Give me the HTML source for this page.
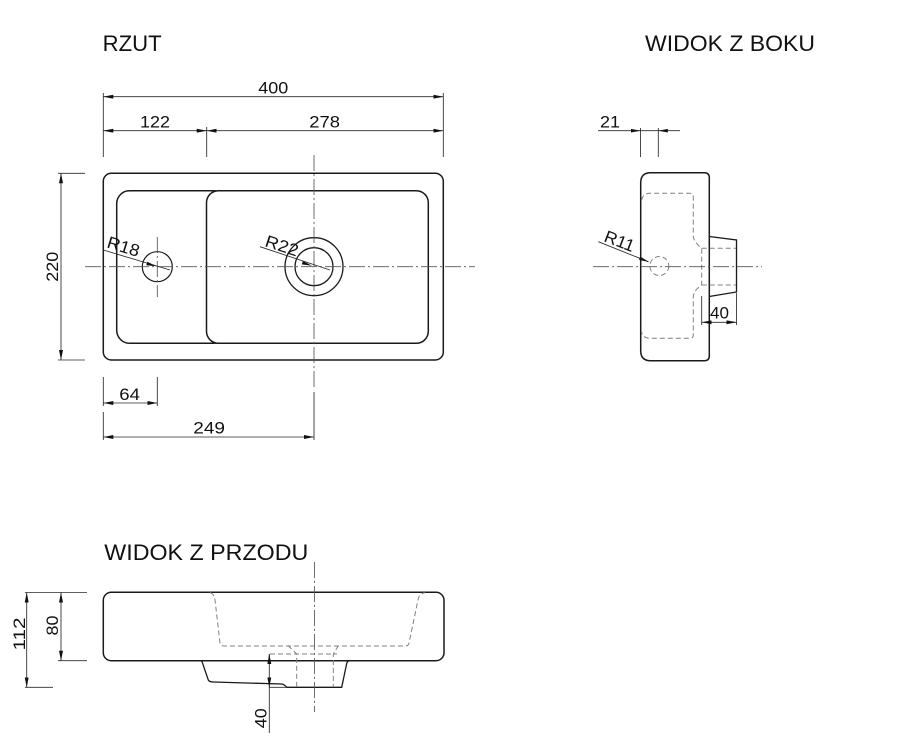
<!DOCTYPE html>
<html><head><meta charset="utf-8"><style>
html,body{margin:0;padding:0;background:#fff;}
svg{display:block;}
text{font-family:"Liberation Sans",Arial,sans-serif;fill:#111;}
.o{fill:none;stroke:#1a1a1a;stroke-width:1.5;}
.d{fill:none;stroke:#2a2a2a;stroke-width:0.85;}
.h{fill:none;stroke:#808080;stroke-width:1;stroke-dasharray:5 3;}
.c{fill:none;stroke:#555;stroke-width:0.85;stroke-dasharray:16 3 2 3;}
.t{font-size:17px;}
.T{font-size:22px;}
</style></head><body>
<svg width="903" height="747" viewBox="0 0 903 747" xmlns="http://www.w3.org/2000/svg">
<defs>
<marker id="a" viewBox="0 0 10 4" refX="10" refY="2" markerWidth="10" markerHeight="4" markerUnits="userSpaceOnUse" orient="auto-start-reverse">
<path d="M0,0 L10,2 L0,4 z" fill="#111"/>
</marker>
</defs>

<!-- Titles -->
<text class="T" x="102.7" y="51" textLength="59" lengthAdjust="spacingAndGlyphs">RZUT</text>
<text class="T" x="645" y="51" textLength="170" lengthAdjust="spacingAndGlyphs">WIDOK Z BOKU</text>
<text class="T" x="104.3" y="560" textLength="204" lengthAdjust="spacingAndGlyphs">WIDOK Z PRZODU</text>

<!-- ===== PLAN VIEW ===== -->
<rect class="o" x="103.3" y="173.3" width="340" height="186.7" rx="8"/>
<rect class="o" x="116.7" y="190.7" width="110" height="152.6" rx="13"/>
<rect class="o" x="206.5" y="190.7" width="221.8" height="152.6" rx="12" style="fill:#fff"/>
<circle class="o" cx="157.3" cy="266.7" r="15" style="stroke-width:1.2"/>
<circle class="o" cx="314" cy="266.7" r="29" style="stroke-width:1.3"/>
<circle class="o" cx="314" cy="266.7" r="19" style="stroke-width:1.3"/>
<!-- centerlines -->
<line class="c" x1="85" y1="266.7" x2="475" y2="266.7"/>
<line class="c" x1="314" y1="155" x2="314" y2="388"/>
<line class="d" x1="314" y1="392" x2="314" y2="440"/>
<line class="c" x1="157.3" y1="237" x2="157.3" y2="297"/>

<!-- dims plan -->
<line class="d" x1="103.3" y1="93" x2="103.3" y2="157"/>
<line class="d" x1="443.3" y1="93" x2="443.3" y2="157"/>
<line class="d" x1="206.7" y1="127" x2="206.7" y2="157"/>
<line class="d" x1="103.3" y1="96.7" x2="443.3" y2="96.7" marker-start="url(#a)" marker-end="url(#a)"/>
<line class="d" x1="103.3" y1="130.7" x2="206.7" y2="130.7" marker-start="url(#a)" marker-end="url(#a)"/>
<line class="d" x1="206.7" y1="130.7" x2="443.3" y2="130.7" marker-start="url(#a)" marker-end="url(#a)"/>
<text class="t" x="258.3" y="93.3" textLength="30" lengthAdjust="spacingAndGlyphs">400</text>
<text class="t" x="140" y="127.7" textLength="30" lengthAdjust="spacingAndGlyphs">122</text>
<text class="t" x="309.3" y="127.7" textLength="30.7" lengthAdjust="spacingAndGlyphs">278</text>

<line class="d" x1="58" y1="173.3" x2="85" y2="173.3"/>
<line class="d" x1="58" y1="360" x2="85" y2="360"/>
<line class="d" x1="61" y1="173.3" x2="61" y2="360" marker-start="url(#a)" marker-end="url(#a)"/>
<text class="t" transform="translate(57.8,266.7) rotate(-90)" x="0" y="0" text-anchor="middle" textLength="30" lengthAdjust="spacingAndGlyphs">220</text>

<line class="d" x1="103.3" y1="377" x2="103.3" y2="406"/>
<line class="d" x1="103.3" y1="412" x2="103.3" y2="440"/>
<line class="d" x1="157.3" y1="377" x2="157.3" y2="406"/>
<line class="d" x1="103.3" y1="403" x2="157.3" y2="403" marker-start="url(#a)" marker-end="url(#a)"/>
<text class="t" x="119.3" y="400" textLength="20.7" lengthAdjust="spacingAndGlyphs">64</text>
<line class="d" x1="103.3" y1="437" x2="314" y2="437" marker-start="url(#a)" marker-end="url(#a)"/>
<text class="t" x="193.3" y="433.3" textLength="31.7" lengthAdjust="spacingAndGlyphs">249</text>

<!-- radius leaders -->
<line class="d" x1="103.3" y1="250" x2="170" y2="270"/>
<polygon points="156.5,266.2 147.3,261.8 146.3,265.2" fill="#111"/>
<text class="t" transform="translate(106,247.3) rotate(17)" x="0" y="0" textLength="33" lengthAdjust="spacingAndGlyphs">R18</text>
<line class="d" x1="260" y1="246.7" x2="330" y2="270"/>
<polygon points="312,265.7 302.9,261 301.8,264.4" fill="#111"/>
<text class="t" transform="translate(264,246) rotate(18)" x="0" y="0" textLength="34" lengthAdjust="spacingAndGlyphs">R22</text>

<!-- ===== SIDE VIEW ===== -->
<path class="o" d="M650.7,172.7 H704.3 Q709.3,172.7 709.3,177.7 V355.7 Q709.3,360.7 704.3,360.7 H650.7 Q640.7,360.7 640.7,350.7 V182.7 Q640.7,172.7 650.7,172.7 Z"/>
<path class="o" d="M709.3,236.5 L736.5,240 V292 L709.3,296.5" style="stroke-width:1.3"/>
<path class="h" d="M641.5,200 Q643,193.3 650,193.3 H690 Q693.3,193.3 693.3,197 V236.7 Q694,242 701.7,248.3 V285 Q694,290 693.3,296.5 V335 Q693.3,338.3 690,338.3 H650 Q643,338.3 641.5,332"/>
<line class="h" x1="701.7" y1="248.3" x2="736" y2="248.3"/>
<line class="h" x1="701.7" y1="285" x2="736" y2="285"/>
<circle class="h" cx="659.3" cy="266" r="9.5"/>
<line class="c" x1="593" y1="266.7" x2="762" y2="266.7"/>

<line class="d" x1="598.3" y1="241.7" x2="648.5" y2="261.8"/>
<polygon points="649,262 640.3,256.6 639,259.9" fill="#111"/>
<text class="t" transform="translate(603,241) rotate(21)" x="0" y="0" textLength="31" lengthAdjust="spacingAndGlyphs">R11</text>

<line class="d" x1="640.5" y1="128" x2="640.5" y2="157"/>
<line class="d" x1="658.3" y1="128" x2="658.3" y2="157"/>
<line class="d" x1="598" y1="130.7" x2="680" y2="130.7"/>
<polygon points="631,128.9 640.5,130.7 631,132.5" fill="#111"/>
<polygon points="667.8,128.9 658.3,130.7 667.8,132.5" fill="#111"/>
<text class="t" x="600" y="127.3" textLength="20" lengthAdjust="spacingAndGlyphs">21</text>

<line class="d" x1="701.7" y1="296" x2="701.7" y2="325"/>
<line class="d" x1="736.5" y1="293" x2="736.5" y2="325"/>
<line class="d" x1="701.7" y1="322.3" x2="736.5" y2="322.3" marker-start="url(#a)" marker-end="url(#a)"/>
<text class="t" x="710" y="318.3" textLength="19" lengthAdjust="spacingAndGlyphs">40</text>

<!-- ===== FRONT VIEW ===== -->
<rect class="o" x="103.3" y="592.3" width="340.7" height="68.4" rx="8"/>
<path class="o" d="M201.7,660.7 L208.3,680 Q209.5,682 213.3,682 L281.7,684 Q284.5,684.5 286.7,687.3 H341.7 L346.7,663.5 Q347.5,660.7 350,660.7" style="stroke-width:1.3"/>
<path class="h" d="M210,592.8 Q214,593.3 215,600 L220,643 Q220.5,646 224,646 H405 Q408.5,646 409,643 L418,600 Q419,593.3 425,592.8"/>
<line class="h" x1="270" y1="654" x2="337" y2="654"/>
<path class="h" d="M288,645.5 L296.7,654 V687"/>
<path class="h" d="M338.5,645.5 L333.3,654 V687"/>
<line class="c" x1="314.5" y1="562" x2="314.5" y2="712"/>

<line class="d" x1="269.3" y1="654" x2="269.3" y2="733" />
<line class="d" x1="269.3" y1="664" x2="269.3" y2="654" marker-end="url(#a)"/>
<line class="d" x1="269.3" y1="677" x2="269.3" y2="687.3" marker-end="url(#a)"/>
<line class="d" x1="269.3" y1="687.3" x2="287" y2="687.3"/>
<text class="t" transform="translate(266.5,718.3) rotate(-90)" x="0" y="0" text-anchor="middle" textLength="20" lengthAdjust="spacingAndGlyphs">40</text>

<line class="d" x1="25" y1="592.5" x2="87" y2="592.5"/>
<line class="d" x1="58" y1="660.7" x2="87" y2="660.7"/>
<line class="d" x1="25" y1="687.3" x2="53" y2="687.3"/>
<line class="d" x1="26.7" y1="592.5" x2="26.7" y2="687.3" marker-start="url(#a)" marker-end="url(#a)"/>
<line class="d" x1="61" y1="592.5" x2="61" y2="660.7" marker-start="url(#a)" marker-end="url(#a)"/>
<text class="t" transform="translate(25,634) rotate(-90)" x="0" y="0" text-anchor="middle" textLength="33" lengthAdjust="spacingAndGlyphs">112</text>
<text class="t" transform="translate(58,625.5) rotate(-90)" x="0" y="0" text-anchor="middle" textLength="20" lengthAdjust="spacingAndGlyphs">80</text>
</svg>
</body></html>
